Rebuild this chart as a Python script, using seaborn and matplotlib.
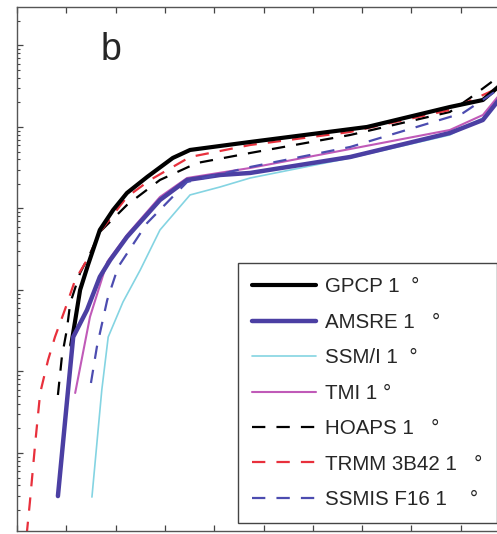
import seaborn as sns
import matplotlib.pyplot as plt
from matplotlib.ticker import LogLocator, NullFormatter, MultipleLocator

# curves (x linear, y log)
gpcp_x = [1.10, 1.28, 1.44, 1.68, 1.95, 2.23, 2.64, 3.16, 3.51, 4.12, 4.73, 7.10, 8.78, 9.45, 9.90]
gpcp_y = [21.1, 100, 203, 545, 959, 1549, 2438, 4169, 5224, 5848, 6546, 10000, 17580, 21430, 36650]

amsre_x = [0.83, 1.03, 1.14, 1.42, 1.68, 1.89, 2.23, 2.90, 3.45, 4.12, 4.73, 6.76, 8.78, 9.45, 9.90]
amsre_y = [0.296, 5.45, 26.5, 56.9, 145, 233, 447, 1271, 2239, 2576, 2729, 4285, 8433, 12190, 26850]

ssmi_x = [1.52, 1.72, 1.85, 2.15, 2.50, 2.90, 3.51, 4.12, 4.73, 6.76, 8.78, 9.45, 9.90]
ssmi_y = [0.288, 5.94, 26.5, 71.3, 176, 545, 1466, 1837, 2366, 4169, 7980, 12880, 24720]

tmi_x = [1.18, 1.48, 1.83, 2.23, 2.90, 3.45, 4.73, 6.76, 8.78, 9.45, 9.90]
tmi_y = [5.45, 46.7, 221, 473, 1384, 2366, 3141, 5370, 9183, 14030, 30130]

hoaps_x = [0.83, 0.91, 1.01, 1.08, 1.28, 1.48, 1.68, 2.23, 2.90, 3.65, 4.73, 6.76, 8.78, 9.19, 9.90]
hoaps_y = [5.15, 15.1, 32.3, 69.2, 162, 277, 515, 1104, 2239, 3614, 4797, 7980, 15280, 22700, 47300]

trmm_x = [0.18, 0.26, 0.37, 0.47, 0.63, 0.77, 0.97, 1.18, 1.48, 1.68, 2.23, 2.70, 3.51, 4.73, 6.76, 8.78, 9.59, 9.90]
trmm_y = [0.0794, 0.244, 1.33, 5.45, 13.8, 26.5, 56.9, 133, 269, 515, 1384, 2239, 4285, 6012, 8690, 16180, 26920, 32730]

ssmis_x = [1.50, 1.62, 1.83, 2.05, 2.64, 3.45, 4.73, 6.76, 9.05, 9.90]
ssmis_y = [7.23, 20.0, 75.3, 191, 664, 2113, 3228, 5689, 14860, 32730]

labels = ["GPCP 1  \u00b0", "AMSRE 1   \u00b0", "SSM/I 1  \u00b0", "TMI 1 \u00b0",
          "HOAPS 1   \u00b0", "TRMM 3B42 1   \u00b0", "SSMIS F16 1    \u00b0"]

sns.set_style("white")
plt.rcParams['font.family'] = ['Liberation Sans', 'DejaVu Sans']

fig = plt.figure(figsize=(4.97, 5.34), dpi=100)
ax = fig.add_axes([17 / 497, 3 / 534, 493 / 497, 524 / 534])

dash = (6.0, 5.0)
series = [
    (gpcp_x, gpcp_y, "black", 3.0, None, 5),
    (amsre_x, amsre_y, "#4b3fa3", 3.2, None, 6),
    (ssmi_x, ssmi_y, "#84d4e2", 1.2, None, 3),
    (tmi_x, tmi_y, "#c05ab8", 1.5, None, 4),
    (hoaps_x, hoaps_y, "black", 1.6, dash, 2),
    (trmm_x, trmm_y, "#e8303c", 1.6, dash, 2),
    (ssmis_x, ssmis_y, "#4c4cb0", 1.6, dash, 7),
]

for (xs, ys, col, lw, ds, z), lab in zip(series, labels):
    l = sns.lineplot(x=xs, y=ys, color=col, linewidth=lw, label=lab,
                     errorbar=None, ax=ax, zorder=z)
    if ds is not None:
        l.lines[-1].set_dashes(ds)

ax.set_yscale("log")
ax.set_xlim(0, 10)
ax.set_ylim(10 ** -0.957, 10 ** 5.472)
ax.xaxis.set_major_locator(MultipleLocator(1))
ax.yaxis.set_major_locator(LogLocator(base=10, numticks=20))
ax.yaxis.set_minor_locator(LogLocator(base=10, subs=range(2, 10), numticks=20))
ax.yaxis.set_minor_formatter(NullFormatter())
ax.tick_params(which="both", direction="in", top=True, right=True, left=True, bottom=True,
               labelleft=False, labelbottom=False, colors="#444444")
ax.tick_params(which="major", length=4, width=0.9)
ax.tick_params(which="minor", length=2, width=0.8)
for s in ax.spines.values():
    s.set_color("#555555")
    s.set_linewidth(1.0)

fig.text(101 / 497, 1 - 60 / 534, "b", fontsize=27, ha="left", va="baseline")

handles, labs = ax.get_legend_handles_labels()
leg = ax.legend(handles, labs, loc="upper left", bbox_to_anchor=(238 / 497, 1 - 263 / 534),
                bbox_transform=fig.transFigure, borderaxespad=0, fontsize=14.8,
                handlelength=3.1, handletextpad=0.42, labelspacing=0.8, borderpad=0.7,
                fancybox=False, framealpha=1, edgecolor="#444444")
leg.get_frame().set_linewidth(1.0)

fig.savefig("out.png", dpi=100)
